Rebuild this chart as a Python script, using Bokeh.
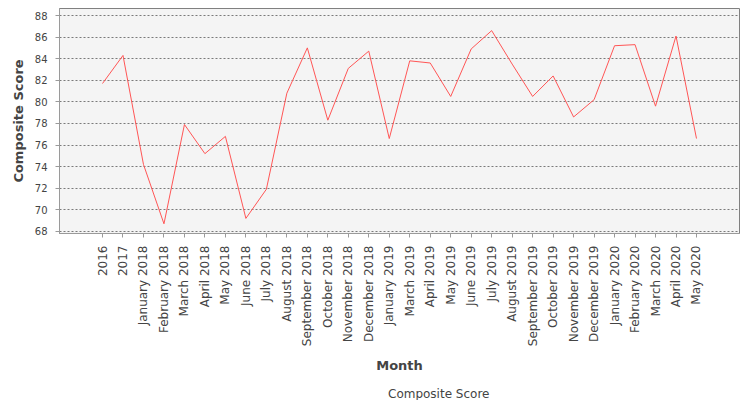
import math

from bokeh.embed import file_html
from bokeh.layouts import column
from bokeh.models import ColumnDataSource, FactorRange, Range1d, SingleIntervalTicker, Legend, LegendItem
from bokeh.plotting import figure
from bokeh.resources import INLINE

months = ["2016", "2017",
          "January 2018", "February 2018", "March 2018", "April 2018", "May 2018", "June 2018",
          "July 2018", "August 2018", "September 2018", "October 2018", "November 2018", "December 2018",
          "January 2019", "March 2019", "April 2019", "May 2019", "June 2019", "July 2019",
          "August 2019", "September 2019", "October 2019", "November 2019", "December 2019",
          "January 2020", "February 2020", "March 2020", "April 2020", "May 2020"]
scores = [81.7, 84.3,
          74.2, 68.7, 77.9, 75.2, 76.8, 69.2,
          71.9, 80.8, 85.0, 78.3, 83.1, 84.7,
          76.6, 83.8, 83.6, 80.5, 84.9, 86.6,
          83.5, 80.5, 82.4, 78.6, 80.2,
          85.2, 85.3, 79.6, 86.1, 76.6]

TEXT = "#444444"
FONT = "DejaVu Sans"
LINE = "#ff5555"

src = ColumnDataSource(dict(month=months, score=scores))

p = figure(x_range=FactorRange(*months, range_padding=1.6, range_padding_units="absolute"),
           y_range=Range1d(67.8, 88.65),
           width=747, height=372, frame_width=680, frame_height=225,
           min_border_left=59, min_border_right=8, min_border_top=8, min_border_bottom=0,
           output_backend="svg", toolbar_location=None,
           background_fill_color="#f4f4f4", border_fill_color="white",
           outline_line_color="#808080", outline_line_width=1)

p.line("month", "score", source=src, line_color=LINE, line_width=1)

p.xgrid.grid_line_color = None
p.ygrid.grid_line_color = "#7a7a7a"
p.ygrid.grid_line_dash = "2 2"
p.ygrid.grid_line_width = 1

p.yaxis.ticker = SingleIntervalTicker(interval=2, num_minor_ticks=0)

for ax in (p.xaxis[0], p.yaxis[0]):
    ax.axis_line_color = "#9a9a9a"
    ax.major_tick_line_color = "#9a9a9a"
    ax.major_tick_out = 4
    ax.major_tick_in = 0
    ax.minor_tick_line_color = None
    ax.major_label_text_color = TEXT
    ax.major_label_text_font = FONT
    ax.axis_label_text_color = TEXT
    ax.axis_label_text_font = FONT
    ax.axis_label_text_font_style = "bold"
    ax.axis_label_text_font_size = "13px"

p.xaxis.axis_label = "Month"
p.xaxis.major_label_orientation = math.pi / 2
p.xaxis.major_label_text_font_size = "12px"
p.xaxis.major_label_standoff = 8
p.xaxis.axis_label_standoff = 9

p.yaxis.axis_label = "Composite Score"
p.yaxis.major_label_text_font_size = "10px"
p.yaxis.major_label_standoff = 8
p.yaxis.axis_label_standoff = 6

# legend strip: a small figure under the chart, holding only the legend
q = figure(width=747, height=28, x_range=Range1d(0, 1), y_range=Range1d(0, 1),
           min_border_left=0, min_border_right=0, min_border_top=0, min_border_bottom=0,
           output_backend="svg", toolbar_location=None,
           outline_line_color=None, background_fill_color="white", border_fill_color="white")
q.axis.visible = False
q.grid.visible = False
key = q.line(x=[], y=[], line_color=LINE, line_width=1)

legend = Legend(items=[LegendItem(label="Composite Score", renderers=[key])],
                orientation="horizontal", location=(310, 0),
                glyph_width=15, glyph_height=20, label_height=20, label_standoff=4,
                padding=2, margin=0, spacing=0,
                border_line_color=None, background_fill_color="white",
                label_text_font=FONT, label_text_font_size="12px", label_text_color=TEXT)
q.add_layout(legend)

page = column(p, q, spacing=0)

open("out.html", "w").write(file_html(page, INLINE))
